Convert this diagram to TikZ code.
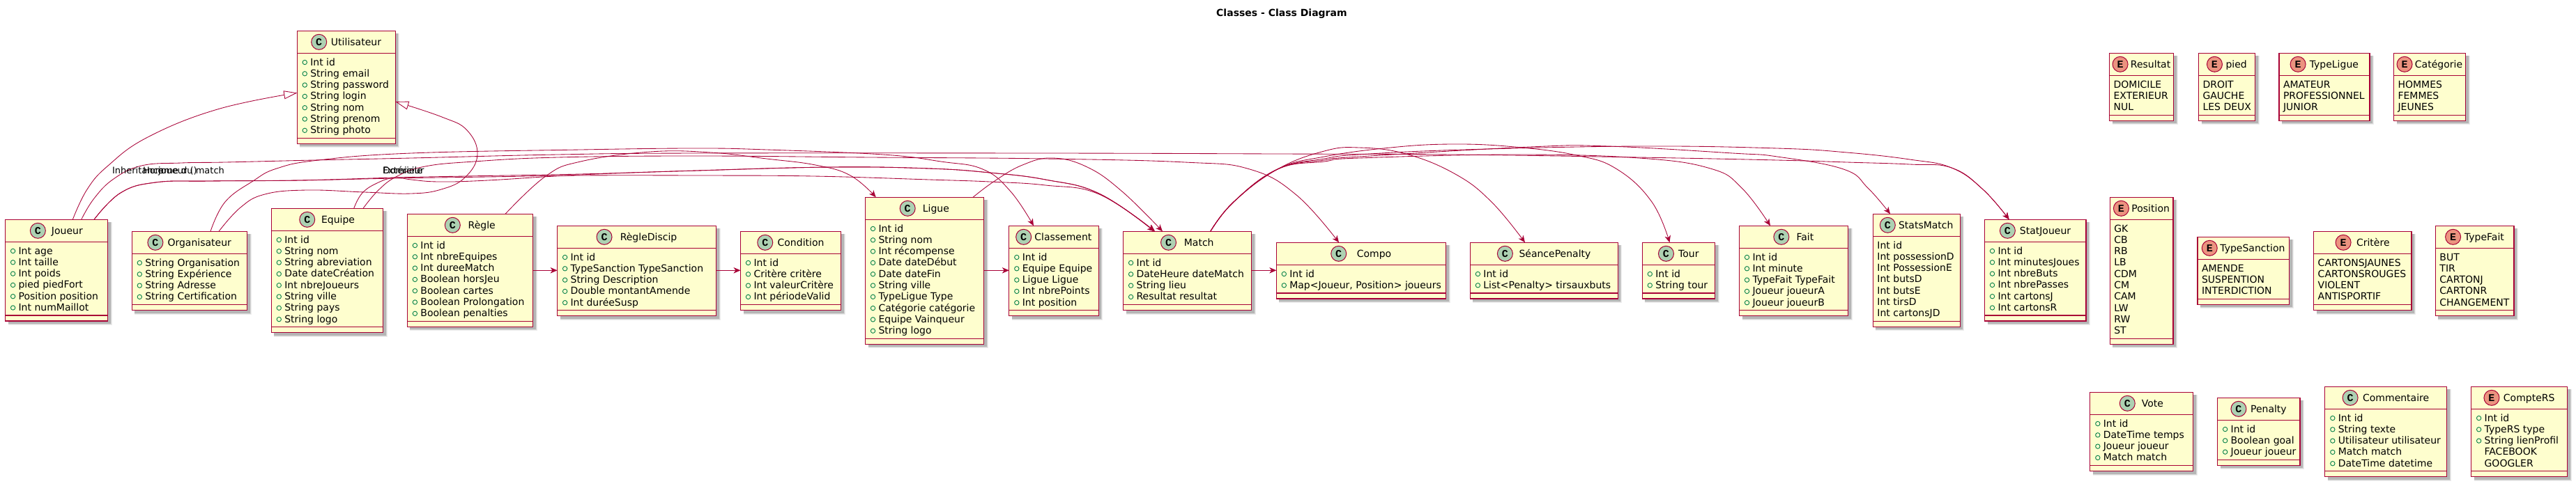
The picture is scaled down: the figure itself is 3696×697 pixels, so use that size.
\documentclass[tikz,border=0pt]{standalone}
\usepackage{fontspec}
\setmainfont{DejaVu Sans}
\newfontfamily\iconfont{Liberation Mono}
\usetikzlibrary{arrows.meta}
\definecolor{umlred}{HTML}{A80036}
\definecolor{umlyellow}{HTML}{FEFECE}
\definecolor{umlgreen}{HTML}{ADD1B2}
\definecolor{umlsalmon}{HTML}{EB937F}
\definecolor{umlvis}{HTML}{038048}
\newlength\ubtw
\newcommand\umltext{\fontsize{14pt}{16pt}\selectfont}
\tikzset{
  umlbody/.style={draw=umlred,fill=umlyellow,line width=1.3pt,inner sep=0pt,outer sep=0pt,rectangle},
  umlrule/.style={draw=umlred,line width=1.3pt},
  umlshadow/.style={fill=black,draw=none},
  umlicon/.style={circle,draw=umlred,line width=1pt,minimum size=22pt,inner sep=0pt,font=\iconfont\bfseries\fontsize{15pt}{15pt}\selectfont},
  umllabel/.style={anchor=base west,inner sep=0pt,outer sep=0pt,font=\umltext,text=black},
  edgelabel/.style={anchor=base west,inner sep=0pt,outer sep=0pt,font=\fontsize{13pt}{15pt}\selectfont,text=black},
  umlvismark/.style={circle,draw=umlvis,line width=0.9pt,minimum size=6.4pt,inner sep=0pt},
  assoc/.style={draw=umlred,line width=0.85pt,-{Stealth[length=10pt,width=8.5pt,inset=3pt]}},
  inherit/.style={draw=umlred,line width=0.85pt,-{Triangle[length=19pt,width=12pt,fill=white]}},
  curve/.style={smooth,tension=0.7}
}
\def\rowparse#1#2\relax{%
  \pgfmathsetmacro\uby{\ubH+12.7+\ri*16.3}%
  \pgfmathsetmacro\ubyb{\uby+5}%
  \ifx+#1%
    \pgfmathsetmacro\ubxv{\ubL+11}\pgfmathsetmacro\ubxt{\ubL+19}%
    \pgfmathsetmacro\ubyv{\uby+0.5}%
    \node[umlvismark] (\ubname-v\ri) at (\ubxv,\ubyv) {};%
    \node[umllabel] (\ubname-r\ri) at (\ubxt,\ubyb) {#2};%
  \else\ifx=#1%
    \pgfmathsetmacro\ubxt{\ubL+19}%
    \node[umllabel] (\ubname-r\ri) at (\ubxt,\ubyb) {#2};%
  \else
    \pgfmathsetmacro\ubxt{\ubL+6}%
    \node[umllabel] (\ubname-r\ri) at (\ubxt,\ubyb) {#2};%
  \fi\fi
}
% name, kind(C/E), left, right, header line y, title, rows count, rows
\newcommand\umlbox[8]{%
  \def\ubname{#1}%
  \pgfmathsetmacro\ubL{#3}\pgfmathsetmacro\ubR{#4}\pgfmathsetmacro\ubH{#5}%
  \pgfmathsetmacro\ubT{#5-32}%
  \pgfmathsetmacro\ubF{#5+#7*16.3+8}%
  \pgfmathsetmacro\ubB{\ubF+8}%
  \pgfmathsetmacro\ubW{#4-#3}%
  \pgfmathsetmacro\ubHt{\ubB-\ubT}%
  \pgfmathsetmacro\ubcx{(#3+#4)/2}%
  \pgfmathsetmacro\ubcy{(\ubB+\ubT)/2}%
  \foreach \ubs/\ubo in {6/0.07,5/0.09,4/0.16}{%
    \fill[umlshadow,opacity=\ubo] ({\ubL+4},{\ubT+4}) rectangle ({\ubR+\ubs},{\ubB+\ubs});}%
  \node[umlbody,minimum width=\ubW pt,minimum height=\ubHt pt] (#1) at (\ubcx,\ubcy) {};%
  \draw[umlrule] (#1.west |- 0,\ubH) -- (#1.east |- 0,\ubH);%
  \draw[umlrule] (#1.west |- 0,\ubF) -- (#1.east |- 0,\ubF);%
  \pgfinterruptpicture\settowidth\ubtw{\umltext #6}\global\ubtw=\ubtw\endpgfinterruptpicture
  \pgfmathsetmacro\ubtwn{\ubtw}%
  \pgfmathsetmacro\ubres{\ubW-22-\ubtwn}%
  \pgfmathsetmacro\ubmid{3+0.07*\ubres}%
  \pgfmathsetmacro\ubleft{(\ubres-\ubmid)/2}%
  \pgfmathsetmacro\ubix{\ubL+\ubleft+11}%
  \pgfmathsetmacro\ubiy{\ubH-16}%
  \pgfmathsetmacro\ubtx{\ubL+\ubleft+22+\ubmid}%
  \pgfmathsetmacro\ubty{\ubH-16+5.4}%
  \if#2C\def\ubfill{umlgreen}\else\def\ubfill{umlsalmon}\fi
  \node[umlicon,fill=\ubfill] (#1-icon) at (\ubix,\ubiy) {#2};%
  \node[umllabel] (#1-title) at (\ubtx,\ubty) {#6};%
  \foreach \rr [count=\ri from 0] in {#8}{\expandafter\rowparse\rr\relax}%
}
\begin{document}
\begin{tikzpicture}[x=1pt,y=-1pt]
\useasboundingbox (0,0) rectangle (3696,697);
\node[anchor=base west,inner sep=0pt,font=\bfseries\umltext] (diagramtitle) at (1745,23) {Classes - Class Diagram};

\umlbox{util}{C}{426.3}{567.4}{76.3}{Utilisateur}{7}{+Int id,+String email,+String password,+String login,+String nom,+String prenom,+String photo}
\umlbox{joueur}{C}{7.6}{154.5}{347.3}{Joueur}{6}{+Int age,+Int taille,+Int poids,+pied piedFort,+Position position,+Int numMaillot}
\umlbox{org}{C}{189.3}{354.5}{364.3}{Organisateur}{4}{+String Organisation,+String Expérience,+String Adresse,+String Certification}
\umlbox{equipe}{C}{389.3}{549.5}{331.3}{Equipe}{8}{+Int id,+String nom,+String abreviation,+Date dateCréation,+Int nbreJoueurs,+String ville,+String pays,+String logo}
\umlbox{regle}{C}{584.4}{764.7}{339.3}{Règle}{7}{+Int id,+Int nbreEquipes,+Int dureeMatch,+Boolean horsJeu,+Boolean cartes,+Boolean Prolongation,+Boolean penalties}
\umlbox{discip}{C}{799.6}{1027.7}{356.3}{RègleDiscip}{5}{+Int id,+TypeSanction TypeSanction,+String Description,+Double montantAmende,+Int duréeSusp}
\umlbox{cond}{C}{1062.5}{1206.7}{364.3}{Condition}{4}{+Int id,+Critère critère,+Int valeurCritère,+Int périodeValid}
\umlbox{ligue}{C}{1241.5}{1411.6}{315.3}{Ligue}{10}{+Int id,+String nom,+Int récompense,+Date dateDébut,+Date dateFin,+String ville,+TypeLigue Type,+Catégorie catégorie,+Equipe Vainqueur,+String logo}
\umlbox{classement}{C}{1447.8}{1576.3}{356.3}{Classement}{5}{+Int id,+Equipe Equipe,+Ligue Ligue,+Int nbrePoints,+Int position}
\umlbox{match}{C}{1611.6}{1795.5}{364.3}{Match}{4}{+Int id,+DateHeure dateMatch,+String lieu,+Resultat resultat}
\umlbox{compo}{C}{1831.3}{2074.6}{380.3}{Compo}{2}{+Int id,{+Map<Joueur, Position> joueurs}}
\umlbox{seance}{C}{2109.4}{2321.4}{380.3}{SéancePenalty}{2}{+Int id,+List<Penalty> tirsauxbuts}
\umlbox{tour}{C}{2356.3}{2460.7}{380.3}{Tour}{2}{+Int id,+String tour}
\umlbox{fait}{C}{2495.5}{2651.6}{356.3}{Fait}{5}{+Int id,+Int minute,+TypeFait TypeFait,+Joueur joueurA,+Joueur joueurB}
\umlbox{statsm}{C}{2687.4}{2812.4}{339.3}{StatsMatch}{7}{-Int id,-Int possessionD,-Int PossessionE,-Int butsD,-Int butsE,-Int tirsD,-Int cartonsJD}
\umlbox{statj}{C}{2847.5}{2993}{347.3}{StatJoueur}{6}{+Int id,+Int minutesJoues,+Int nbreButs,+Int nbrePasses,+Int cartonsJ,+Int cartonsR}
\umlbox{resultat}{E}{3026.6}{3118.7}{108.3}{Resultat}{3}{-DOMICILE,-EXTERIEUR,-NUL}
\umlbox{pied}{E}{3154.5}{3235.7}{108.3}{pied}{3}{-DROIT,-GAUCHE,-LES DEUX}
\umlbox{typeligue}{E}{3270}{3400}{108.3}{TypeLigue}{3}{-AMATEUR,-PROFESSIONNEL,-JUNIOR}
\umlbox{categorie}{E}{3434.5}{3537.6}{108.3}{Catégorie}{3}{-HOMMES,-FEMMES,-JEUNES}
\umlbox{position}{E}{3027.3}{3118}{315.3}{Position}{10}{-GK,-CB,-RB,-LB,-CDM,-CM,-CAM,-LW,-RW,-ST}
\umlbox{typesanction}{E}{3153}{3284.6}{372.3}{TypeSanction}{3}{-AMENDE,-SUSPENTION,-INTERDICTION}
\umlbox{critere}{E}{3319.7}{3460}{364.3}{Critère}{4}{-CARTONSJAUNES,-CARTONSROUGES,-VIOLENT,-ANTISPORTIF}
\umlbox{typefait}{E}{3494.4}{3607}{356.3}{TypeFait}{5}{-BUT,-TIR,-CARTONJ,-CARTONR,-CHANGEMENT}
\umlbox{vote}{C}{2998.8}{3146.5}{595.3}{Vote}{4}{+Int id,+DateTime temps,+Joueur joueur,+Match match}
\umlbox{penalty}{C}{3181.6}{3300}{603.3}{Penalty}{3}{+Int id,+Boolean goal,+Joueur joueur}
\umlbox{commentaire}{C}{3335.8}{3510.5}{587.3}{Commentaire}{5}{+Int id,+String texte,+Utilisateur utilisateur,+Match match,+DateTime datetime}
\umlbox{compters}{E}{3545.6}{3683.8}{587.3}{CompteRS}{5}{+Int id,+TypeRS type,+String lienProfil,=FACEBOOK,=GOOGLER}

% inheritance
\draw[inherit] plot[curve] coordinates {(104.3,0 |- joueur.north) (125,272) (155,238) (212,197) (312,157) (util.west |- 0,133.4)};
\draw[inherit] plot[curve] coordinates {(314,0 |- org.north) (345,298) (380,279) (440,273) (523,276) (590,278) (633,272) (667,255) (685,222) (670,187) (634,168) (util.east |- 0,146)};

% long associations
\draw[assoc] plot[curve] coordinates {(135,0 |- joueur.north) (173,277) (223,262) (300,260) (430,259) (567,255) (667,253) (833,250) (1000,245) (1193,240) (1333,242) (1420,248) (1500,258) (1577,278) (1657,0 |- match.north)};
\draw[assoc] plot[curve] coordinates {(135,0 |- joueur.north) (173,277) (223,262) (300,260) (430,259) (567,256) (700,254) (833,252) (1000,252) (1167,253) (1333,258) (1420,261) (1500,266) (1577,279) (1656,0 |- match.north)};
\draw[assoc] plot[curve] coordinates {(507.7,0 |- equipe.north) (520,277) (543,262) (567,255) (590,258) (630,261) (700,259) (833,251) (1000,245) (1193,240) (1333,242) (1420,248) (1500,258) (1577,278) (1657,0 |- match.north)};
\draw[assoc] plot[curve] coordinates {(521,0 |- equipe.north) (543,273) (570,253) (610,239) (680,232) (800,226) (1000,224) (1250,226) (1500,228) (1700,233) (1793,243) (1860,280) (1921,0 |- compo.north)};
\draw[assoc] plot[curve] coordinates {(116.7,0 |- joueur.north) (135,285) (163,257) (203,238) (260,234) (323,233) (450,230) (590,227) (800,222) (1000,220) (1500,220) (1833,221) (2084,222) (2352,226) (2550,230) (2650,233) (2740,236) (2800,241) (2845,272) (2882.6,0 |- statj.north)};
\draw[assoc] plot[curve] coordinates {(302,0 |- org.north) (323,290) (363,260) (397,242) (457,230) (590,220) (833,215) (1000,213) (1100,215) (1267,222) (1350,232) (1410,243) (1450,275) (1483,0 |- classement.north)};
\draw[assoc] plot[curve] coordinates {(725,0 |- regle.north) (783,253) (833,232) (933,218) (1020,219) (1100,228) (1170,237) (1220,252) (1256.7,0 |- ligue.north)};
\draw[assoc] plot[curve] coordinates {(1396,0 |- ligue.north) (1427,260) (1467,237) (1510,227) (1560,240) (1610,275) (1668,0 |- match.north)};

% from Match
\draw[assoc] plot[curve] coordinates {(1736.7,0 |- match.north) (1770,290) (1833,243) (1900,217) (1950,212) (2017,221) (2088,250) (2140,290) (2188,0 |- seance.north)};
\draw[assoc] plot[curve] coordinates {(1736.7,0 |- match.north) (1770,290) (1833,243) (1900,225) (1995,212) (2084,207) (2173,211) (2262,223) (2320,243) (2370,290) (2395.5,0 |- tour.north)};
\draw[assoc] plot[curve] coordinates {(1736.7,0 |- match.north) (1770,290) (1833,243) (1900,232) (1950,227) (2173,222) (2352,227) (2454,242) (2499,270) (2540,0 |- fait.north)};
\draw[assoc] plot[curve] coordinates {(1736.7,0 |- match.north) (1770,290) (1833,243) (1900,230) (1950,225) (2195,211) (2307,210) (2486,220) (2550,225) (2645,243) (2680,270) (2712,0 |- statsm.north)};
\draw[assoc] plot[curve] coordinates {(1736.7,0 |- match.north) (1770,290) (1833,243) (1900,228) (1950,222) (2100,215) (2352,210) (2550,213) (2650,219) (2740,229) (2800,241) (2845,272) (2882.6,0 |- statj.north)};

% horizontal
\draw[assoc] (regle.east |- 0,388.3) -- (discip.west |- 0,388.3);
\draw[assoc] (discip.east |- 0,388.3) -- (cond.west |- 0,388.3);
\draw[assoc] (ligue.east |- 0,388.3) -- (classement.west |- 0,388.3);
\draw[assoc] (match.east |- 0,388.3) -- (compo.west |- 0,388.3);

% labels
\node[edgelabel] (lblinherit) at (161,249) {Inheritance};
\node[edgelabel] (lblhomme) at (205,249) {Homme du match};
\node[edgelabel] (lbljoueur) at (227,249) {joueur ()};
\node[edgelabel] (lbldom) at (549.5,249) {Domicile};
\node[edgelabel] (lblext) at (549,249) {Extérieur};
\end{tikzpicture}
\end{document}
